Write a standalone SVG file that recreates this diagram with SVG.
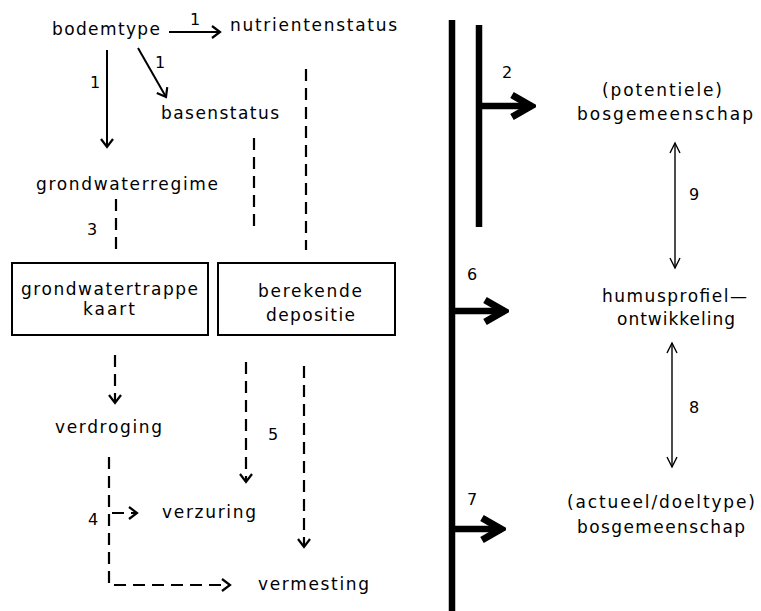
<svg xmlns="http://www.w3.org/2000/svg" width="761" height="611" viewBox="0 0 761 611">
<style>
text{font-family:"DejaVu Sans","Liberation Sans",sans-serif;font-size:17px;fill:#000}
.num{text-anchor:middle;font-size:16px}
.solid{stroke:#000;stroke-width:2;fill:none}
.thin{stroke:#000;stroke-width:1.4;fill:none}
.dash{stroke:#000;stroke-width:2.2;fill:none;stroke-dasharray:12 7}
.bar{stroke:#000;stroke-width:6.5;fill:none}
.box{fill:#fff;stroke:#000;stroke-width:2}
</style>
<defs>
<marker id="av" markerUnits="userSpaceOnUse" viewBox="-10 -8 12 16" refX="0" refY="0" markerWidth="12" markerHeight="16" orient="auto">
<path d="M-8,-6 L0,0 L-8,6" fill="none" stroke="#000" stroke-width="2.2"/>
</marker>
<marker id="at" markerUnits="userSpaceOnUse" viewBox="-12 -7 14 14" refX="0" refY="0" markerWidth="14" markerHeight="14" orient="auto">
<path d="M-10,-5 L0,0 L-10,5" fill="none" stroke="#000" stroke-width="1.4"/>
</marker>
<marker id="atStart" markerUnits="userSpaceOnUse" viewBox="-12 -7 14 14" refX="0" refY="0" markerWidth="14" markerHeight="14" orient="auto-start-reverse">
<path d="M-10,-5 L0,0 L-10,5" fill="none" stroke="#000" stroke-width="1.4"/>
</marker>
<marker id="ab" markerUnits="userSpaceOnUse" viewBox="-26 -16 30 32" refX="0" refY="0" markerWidth="30" markerHeight="32" orient="auto">
<path d="M-20,-11 L-1,0 L-20,11" fill="none" stroke="#000" stroke-width="7" stroke-linejoin="miter"/>
</marker>
</defs>

<g id="bodemtype"><text x="52" y="35" textLength="108" lengthAdjust="spacing">bodemtype</text></g>
<g id="nutrientenstatus"><text x="230" y="31" textLength="167" lengthAdjust="spacing">nutrientenstatus</text></g>
<g id="basenstatus"><text x="161" y="119" textLength="118" lengthAdjust="spacing">basenstatus</text></g>
<g id="grondwaterregime"><text x="36" y="190" textLength="182" lengthAdjust="spacing">grondwaterregime</text></g>
<g id="grondwatertrappekaart">
<rect class="box" x="12" y="263" width="196" height="72"/>
<text x="21" y="295" textLength="177" lengthAdjust="spacing">grondwatertrappe</text>
<text x="83" y="315" textLength="52" lengthAdjust="spacing">kaart</text>
</g>
<g id="berekendedepositie">
<rect class="box" x="218" y="263" width="177" height="72"/>
<text x="258" y="297" textLength="104" lengthAdjust="spacing">berekende</text>
<text x="266" y="321" textLength="89" lengthAdjust="spacing">depositie</text>
</g>
<g id="verdroging"><text x="55" y="433" textLength="107" lengthAdjust="spacing">verdroging</text></g>
<g id="verzuring"><text x="162" y="518" textLength="94" lengthAdjust="spacing">verzuring</text></g>
<g id="vermesting"><text x="258" y="590" textLength="111" lengthAdjust="spacing">vermesting</text></g>
<g id="potentiele">
<text x="602" y="96" textLength="120" lengthAdjust="spacing">(potentiele)</text>
<text x="577" y="120" textLength="176" lengthAdjust="spacing">bosgemeenschap</text>
</g>
<g id="humusprofiel">
<text x="602" y="302" textLength="145" lengthAdjust="spacing">humusprofiel—</text>
<text x="617" y="325" textLength="118" lengthAdjust="spacing">ontwikkeling</text>
</g>
<g id="actueel">
<text x="567" y="508" textLength="188" lengthAdjust="spacing">(actueel/doeltype)</text>
<text x="577" y="533" textLength="168" lengthAdjust="spacing">bosgemeenschap</text>
</g>

<g id="connectors">
<line class="solid" x1="169" y1="32" x2="220" y2="32" marker-end="url(#av)"/>
<line class="solid" x1="107" y1="50" x2="107" y2="147" marker-end="url(#av)"/>
<line class="solid" x1="138" y1="48" x2="166" y2="97" marker-end="url(#av)"/>
<line class="dash" x1="306" y1="69" x2="306" y2="250"/>
<line class="dash" x1="254" y1="138" x2="254" y2="232"/>
<line class="dash" x1="116" y1="199" x2="116" y2="256"/>
<line class="dash" x1="115" y1="355" x2="115" y2="403" marker-end="url(#av)"/>
<line class="dash" x1="246" y1="362" x2="246" y2="482" marker-end="url(#av)"/>
<line class="dash" x1="304" y1="366" x2="304" y2="547" marker-end="url(#av)"/>
<polyline class="dash" points="109,457 109,585 230,585" marker-end="url(#av)"/>
<line class="dash" x1="112" y1="513" x2="137" y2="513" stroke-dasharray="6 6" marker-end="url(#av)"/>
<line class="bar" x1="452" y1="20" x2="452" y2="611"/>
<line class="bar" x1="479" y1="25" x2="479" y2="227"/>
<line class="bar" x1="479" y1="106" x2="532" y2="106" marker-end="url(#ab)"/>
<line class="bar" x1="452" y1="311" x2="505" y2="311" marker-end="url(#ab)"/>
<line class="bar" x1="452" y1="529" x2="502" y2="529" marker-end="url(#ab)"/>
<line class="thin" x1="675" y1="143" x2="675" y2="268" marker-start="url(#atStart)" marker-end="url(#at)"/>
<line class="thin" x1="672" y1="343" x2="672" y2="467" marker-start="url(#atStart)" marker-end="url(#at)"/>
<text class="num" x="195" y="25">1</text>
<text class="num" x="95" y="88">1</text>
<text class="num" x="160" y="68">1</text>
<text class="num" x="92" y="235">3</text>
<text class="num" x="93" y="525">4</text>
<text class="num" x="273" y="440">5</text>
<text class="num" x="507" y="78">2</text>
<text class="num" x="694" y="200">9</text>
<text class="num" x="472" y="280">6</text>
<text class="num" x="694" y="413">8</text>
<text class="num" x="472" y="505">7</text>
</g>
</svg>
